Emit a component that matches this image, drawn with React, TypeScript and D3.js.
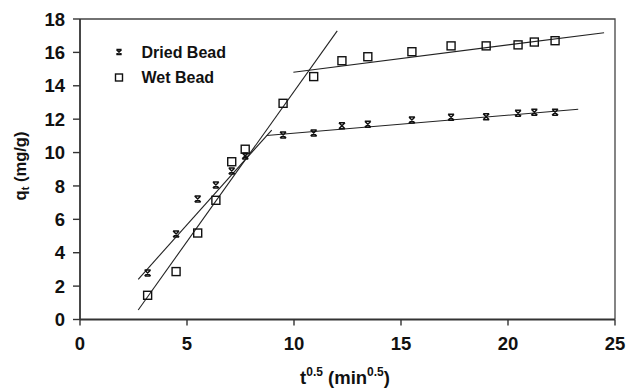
import React from "react";
import * as d3 from "d3";

// t^0.5 values (min^0.5) and uptake q_t (mg/g)
const tSqrt = [3.16, 4.49, 5.5, 6.35, 7.09, 7.72, 9.49, 10.92, 12.24, 13.45, 15.51, 17.34, 18.98, 20.47, 21.23, 22.2];
const driedQ = [2.79, 5.12, 7.22, 8.06, 8.9, 9.8, 11.05, 11.17, 11.6, 11.7, 11.95, 12.11, 12.15, 12.35, 12.41, 12.41];
const wetQ = [1.45, 2.87, 5.18, 7.14, 9.45, 10.2, 12.95, 14.55, 15.5, 15.74, 16.04, 16.39, 16.39, 16.45, 16.62, 16.7];

// Piecewise linear fits: [x, y] end points of each segment
const driedFitA: [number, number][] = [[2.72, 2.41], [8.96, 11.35]];
const driedFitB: [number, number][] = [[8.72, 11.02], [23.28, 12.59]];
const wetFitA: [number, number][] = [[2.72, 0.57], [12.02, 17.29]];
const wetFitB: [number, number][] = [[9.97, 14.81], [24.49, 17.18]];

const xTicks = [0, 5, 10, 15, 20, 25];
const yTicks = [0, 2, 4, 6, 8, 10, 12, 14, 16, 18];
const seriesNames = ["Dried Bead", "Wet Bead"];

const W = 626;
const H = 390;
const FONT = "Arial, 'Liberation Sans', Helvetica, sans-serif";

export default function App() {
  const x = d3.scaleLinear().domain([0, 25]).range([80, 615]);
  const y = d3.scaleLinear().domain([0, 18]).range([319.5, 19]);
  const line = d3
    .line<[number, number]>()
    .x((d) => x(d[0]))
    .y((d) => y(d[1]));

  const cross = (cx: number, cy: number, key: string, s = 3) => (
    <path
      key={key}
      d={`M${cx - s},${cy - s}L${cx + s},${cy + s}M${cx + s},${cy - s}L${cx - s},${cy + s}M${cx - s},${cy - s}H${cx + s}M${cx - s},${cy + s}H${cx + s}`}
      stroke="#111"
      strokeWidth={1.5}
      fill="none"
    />
  );
  const square = (cx: number, cy: number, key: string, s = 8) => (
    <rect key={key} x={cx - s / 2} y={cy - s / 2} width={s} height={s} fill="none" stroke="#111" strokeWidth={1.4} />
  );

  return (
    <svg
      width={W}
      height={H}
      style={{ position: "absolute", left: 0, top: 0, background: "#fff" }}
      fontFamily={FONT}
    >
      {/* frame */}
      <path
        d={`M${x(0)},${y(18)}H${x(25)}V${y(0)}`}
        fill="none"
        stroke="#444"
        strokeWidth={1.3}
      />
      <line x1={x(0)} x2={x(0)} y1={y(18)} y2={y(0)} stroke="#333" strokeWidth={1.8} />
      <line x1={x(0)} x2={x(25)} y1={y(0)} y2={y(0)} stroke="#333" strokeWidth={1.8} />

      {/* y ticks */}
      {yTicks.map((t) => (
        <g key={`y${t}`}>
          <line x1={x(0) - 7} x2={x(0)} y1={y(t)} y2={y(t)} stroke="#333" strokeWidth={1.4} />
          <text x={65} y={y(t)} dy="0.36em" textAnchor="end" fontSize={18.5} fontWeight="bold" fill="#111">
            {t}
          </text>
        </g>
      ))}

      {/* x ticks */}
      {xTicks.map((t) => (
        <g key={`x${t}`}>
          <line x1={x(t)} x2={x(t)} y1={y(0)} y2={y(0) + 6} stroke="#333" strokeWidth={1.4} />
          <text x={x(t)} y={349.5} textAnchor="middle" fontSize={18.5} fontWeight="bold" fill="#111">
            {t}
          </text>
        </g>
      ))}

      {/* axis titles */}
      <text x={345} y={384} textAnchor="middle" fontSize={18.5} fontWeight="bold" fill="#111">
        t<tspan fontSize={12} dy={-8}>0.5</tspan>
        <tspan dy={8}> (min</tspan>
        <tspan fontSize={12} dy={-8}>0.5</tspan>
        <tspan dy={8}>)</tspan>
      </text>
      <text
        transform={`translate(26,166) rotate(-90)`}
        textAnchor="middle"
        fontSize={16.5}
        fontWeight="bold"
        fill="#111"
      >
        q<tspan fontSize={11} dy={3}>t</tspan>
        <tspan dy={-3}> (mg/g)</tspan>
      </text>

      {/* fit lines */}
      {[driedFitA, driedFitB, wetFitA, wetFitB].map((seg, i) => (
        <path key={`f${i}`} d={line(seg) || ""} fill="none" stroke="#222" strokeWidth={1.1} />
      ))}

      {/* data points */}
      {tSqrt.map((t, i) => square(x(t), y(wetQ[i]), `w${i}`))}
      {tSqrt.map((t, i) => cross(x(t), y(driedQ[i]), `d${i}`))}

      {/* legend */}
      {cross(119, 52, "lg0", 2.6)}
      <text x={141.5} y={57.5} fontSize={16} fontWeight="bold" fill="#111">
        {seriesNames[0]}
      </text>
      {square(119, 77.5, "lg1", 7)}
      <text x={141.5} y={83} fontSize={16} fontWeight="bold" fill="#111">
        {seriesNames[1]}
      </text>
    </svg>
  );
}
